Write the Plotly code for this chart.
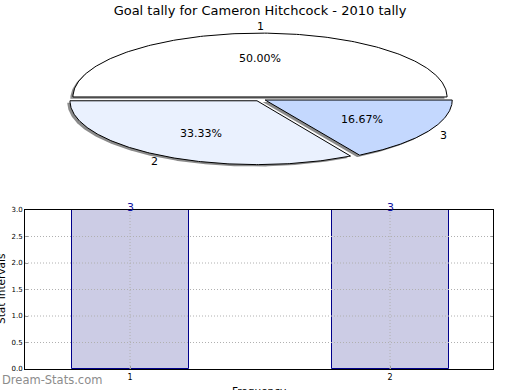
import numpy as np
import plotly.graph_objects as go

# ---- data ----
title = "Goal tally for Cameron Hitchcock - 2010 tally"
pie_labels = ["1", "2", "3"]
pie_values = [3, 2, 1]
pie_colors = ["#ffffff", "#eaf1fe", "#c4d8fe"]

bar_categories = [1, 2]
bar_values = [3, 3]
y_ticks = [0.0, 0.5, 1.0, 1.5, 2.0, 2.5, 3.0]
x_title = "Frequency"
y_title = "Stat Intervals"

FONT = "DejaVu Sans"
explode = 0.032
shadow_dx, shadow_dy = -0.014, -0.03
GRID = "#b0b0b0"

fig = go.Figure()

# ---- elliptical pie drawn on a hidden cartesian subplot ----
total = float(sum(pie_values))
fracs = [v / total for v in pie_values]
start = 0.0
wedges = []
for lab, frac, col in zip(pie_labels, fracs, pie_colors):
    t1 = start * 2 * np.pi
    t2 = (start + frac) * 2 * np.pi
    mid = (t1 + t2) / 2
    ox, oy = explode * np.cos(mid), explode * np.sin(mid)
    th = np.linspace(t1, t2, 200)
    xs = np.concatenate([[ox], ox + np.cos(th), [ox]])
    ys = np.concatenate([[oy], oy + np.sin(th), [oy]])
    wedges.append((lab, frac, col, mid, ox, oy, xs, ys))
    start += frac

for lab, frac, col, mid, ox, oy, xs, ys in wedges:
    fig.add_trace(go.Scatter(x=xs + shadow_dx, y=ys + shadow_dy, mode="lines",
                             fill="toself", fillcolor="rgba(90,90,90,0.7)",
                             line=dict(width=0), hoverinfo="skip",
                             showlegend=False, xaxis="x2", yaxis="y2"))
for lab, frac, col, mid, ox, oy, xs, ys in wedges:
    fig.add_trace(go.Scatter(x=xs, y=ys, mode="lines", fill="toself",
                             fillcolor=col, line=dict(color="black", width=1),
                             hoverinfo="skip", showlegend=False,
                             xaxis="x2", yaxis="y2"))
for lab, frac, col, mid, ox, oy, xs, ys in wedges:
    fig.add_annotation(x=ox + 1.1 * np.cos(mid), y=oy + 1.1 * np.sin(mid),
                       xref="x2", yref="y2", text=lab, showarrow=False,
                       font=dict(family=FONT, size=11, color="black"))
    fig.add_annotation(x=ox + 0.6 * np.cos(mid), y=oy + 0.6 * np.sin(mid),
                       xref="x2", yref="y2", text="%.2f%%" % (frac * 100),
                       showarrow=False,
                       font=dict(family=FONT, size=11, color="black"))

# ---- bar chart ----
fig.add_trace(go.Bar(
    x=bar_categories, y=bar_values, width=0.45,
    marker=dict(color="#ccccE5", line=dict(color="#00008b", width=1)),
    showlegend=False, xaxis="x", yaxis="y"))

for c, v in zip(bar_categories, bar_values):
    fig.add_annotation(x=c, y=v, xref="x", yref="y", text=str(v),
                       showarrow=False, yanchor="middle", yshift=3,
                       font=dict(family=FONT, size=11, color="#1010a0"))

# grid lines drawn above the bars (as in the reference)
for t in y_ticks[1:-1]:
    fig.add_shape(type="line", xref="x domain", yref="y", x0=0, x1=1,
                  y0=t, y1=t, layer="above",
                  line=dict(color=GRID, width=1, dash="1px,2px"))
for c in bar_categories:
    fig.add_shape(type="line", xref="x", yref="y domain", x0=c, x1=c,
                  y0=0, y1=1, layer="above",
                  line=dict(color=GRID, width=1, dash="1px,2px"))

ax_common = dict(showgrid=False, zeroline=False, showline=True,
                 linecolor="black", linewidth=1, ticks="inside", ticklen=3,
                 tickcolor="#999999", automargin=False)

fig.update_layout(
    width=520, height=390,
    margin=dict(l=0, r=0, t=0, b=0, autoexpand=False),
    paper_bgcolor="white", plot_bgcolor="white",
    font=dict(family=FONT, color="black"),
    title=dict(text=title, x=0.5, xanchor="center", y=1 - 10 / 390,
               yanchor="middle",
               font=dict(family=FONT, size=13, color="black"),
               automargin=False),
    xaxis=dict(domain=[25 / 520, 493 / 520], range=[0.596, 2.396],
               tickvals=bar_categories, ticktext=[str(c) for c in bar_categories],
               tickfont=dict(size=8), mirror=True, **ax_common),
    yaxis=dict(domain=[1 - 369 / 390, 1 - 210 / 390], range=[0, 3],
               tickvals=y_ticks, ticktext=["%.1f" % v for v in y_ticks],
               tickfont=dict(size=7), mirror="ticks", **ax_common),
    xaxis2=dict(domain=[0, 1], range=[-1.39, 1.39], visible=False,
                fixedrange=True, automargin=False),
    yaxis2=dict(domain=[1 - 182 / 390, 1 - 16 / 390], range=[-1.3, 1.3],
                visible=False, fixedrange=True, automargin=False),
    bargap=0,
)

# axis titles (partly clipped by the page edges, as in the reference)
fig.add_annotation(text=x_title, xref="paper", yref="paper",
                   x=259 / 520, y=1 - 383 / 390, xanchor="center",
                   yanchor="top", showarrow=False,
                   font=dict(family=FONT, size=10.5, color="black"))
fig.add_annotation(text=y_title, xref="paper", yref="paper",
                   x=1 / 520, y=1 - 289 / 390, xanchor="center",
                   yanchor="middle", textangle=-90, showarrow=False,
                   font=dict(family=FONT, size=10.5, color="black"))

fig.add_annotation(text="Dream-Stats.com", xref="paper", yref="paper",
                   x=0, y=1 - 380 / 390, xanchor="left", yanchor="middle",
                   showarrow=False,
                   font=dict(family=FONT, size=11.5, color="#8c8c8c"))

fig.write_html("out.html", config={"displayModeBar": False},
               post_script="document.body.style.margin='0';"
                           "document.body.style.overflow='hidden';")
